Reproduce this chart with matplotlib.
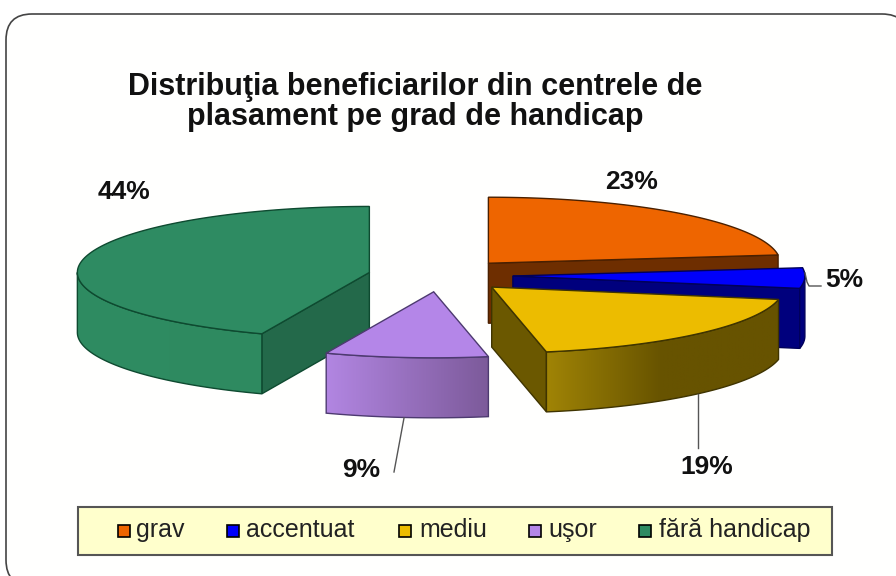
import numpy as np
import matplotlib
matplotlib.use("Agg")
import matplotlib.pyplot as plt
from matplotlib.patches import Polygon, FancyBboxPatch, Rectangle

plt.rcParams["font.family"] = ["Liberation Sans", "DejaVu Sans"]

title = "Distribuţia beneficiarilor din centrele de\nplasament pe grad de handicap"
categories = ["grav", "accentuat", "mediu", "uşor", "fără handicap"]
values = [23, 5, 19, 9, 44]

top_colors = ["#ee6500", "#0000fa", "#ecbc00", "#b486e8", "#2e8b62"]
radial_colors = ["#6e2e00", "#00007d", "#6b5800", "#7a5a9c", "#23694a"]
side_left = ["#6e2e00", "#00007d", "#a08406", "#b286e2", "#2f8c62"]
side_right = ["#6e2e00", "#00007d", "#675300", "#7c5a9a", "#2e8a60"]
grad_end = [1, 1, 0.5, 1, 1]
edge_colors = ["#4a2000", "#00005a", "#3f3400", "#4d3a70", "#0e4a30"]

# pie geometry in image pixels
cx, cy = 440.5, 275.5
rx, ry = 292, 66
depth = 60
explode = 0.248

fig = plt.figure(figsize=(8.96, 5.76), dpi=100)
ax = fig.add_axes([0, 0, 1, 1])


def rim(x0, y0, t0, t1):
    t = np.radians(np.linspace(t0, t1, 120))
    return np.column_stack([x0 + rx * np.sin(t), y0 - ry * np.cos(t)])


def draw_slice(i, t0, t1, z):
    mid = np.radians((t0 + t1) / 2)
    x0 = cx + explode * rx * np.sin(mid)
    y0 = cy - explode * ry * np.cos(mid)
    center = np.array([[x0, y0]])
    down = np.array([0, depth])
    edge = edge_colors[i]

    # cut faces that look towards the viewer
    for t, turn in ((t0, -90), (t1, 90)):
        if np.cos(np.radians(t + turn)) < -0.01:
            p = rim(x0, y0, t, t)[:1]
            face = np.vstack([center, p, p + down, center + down])
            ax.add_patch(Polygon(face, fc=radial_colors[i], ec=edge, lw=1, zorder=z))

    # outer wall, only the front half of the ellipse
    a0, a1 = max(t0, 90), min(t1, 270)
    if a1 > a0:
        r = rim(x0, y0, a0, a1)
        wall = np.vstack([r, (r + down)[::-1]])
        poly = Polygon(wall, fc="none", ec=edge, lw=1, zorder=z + 0.2)
        xs = wall[:, 0].min(), wall[:, 0].max()
        c0 = np.array(matplotlib.colors.to_rgb(side_left[i]))
        c1 = np.array(matplotlib.colors.to_rgb(side_right[i]))
        f = np.clip(np.linspace(0, 1, 256) / grad_end[i], 0, 1)[:, None]
        grad = (c0 + (c1 - c0) * f)[None, :, :]
        im = ax.imshow(grad, extent=[xs[0], xs[1], wall[:, 1].max(), wall[:, 1].min()],
                       aspect="auto", zorder=z + 0.1)
        ax.add_patch(poly)
        im.set_clip_path(poly)

    top = np.vstack([center, rim(x0, y0, t0, t1)])
    ax.add_patch(Polygon(top, fc=top_colors[i], ec=edge, lw=1, zorder=z + 0.3))


# frame runs off the right and bottom of the image
ax.add_patch(FancyBboxPatch((6, 14), 902, 572, boxstyle="round,pad=0,rounding_size=26",
                            fc="#fffffe", ec="#444444", lw=1.2, zorder=0.5))

# slices start at 12 o'clock and run clockwise
stops = np.cumsum([0] + values) / sum(values) * 360
order = [0, 1, 2, 4, 3]
for z, i in enumerate(order):
    draw_slice(i, stops[i], stops[i + 1], 2 + z)

# leader lines
ax.plot([805, 807, 809, 821], [273, 282, 286, 286], color="#555555", lw=1, zorder=9)
ax.plot([698, 698], [394, 448], color="#555555", lw=1, zorder=9)
ax.plot([404, 394], [418, 472], color="#555555", lw=1, zorder=9)

# percentage labels
label_x = [632, 844, 707, 361, 124]
label_y = [182, 280, 467, 470, 192]
for i, v in enumerate(values):
    ax.text(label_x[i], label_y[i], f"{v}%", fontsize=19, fontweight="bold",
            color="#111111", ha="center", va="center", zorder=10)

ax.text(415, 102, title, fontsize=22, fontweight="bold", color="#111111",
        ha="center", va="center", linespacing=0.98, zorder=10)

# legend box
ax.add_patch(Rectangle((78, 507), 754, 48, fc="#ffffcc", ec="#555555", lw=1.5, zorder=1))
marker_x = [124, 233, 405, 535, 645]
text_x = [136, 246, 419, 548, 659]
for i, name in enumerate(categories):
    ax.add_patch(Rectangle((marker_x[i] - 6, 525), 12, 12, fc=top_colors[i], ec="black",
                           lw=1.2, zorder=2))
    ax.text(text_x[i], 530, name, fontsize=18, color="#222222", ha="left", va="center", zorder=3)

ax.set_xlim(0, 896)
ax.set_ylim(576, 0)
ax.axis("off")
fig.savefig("out.png", dpi=100, facecolor="white")
